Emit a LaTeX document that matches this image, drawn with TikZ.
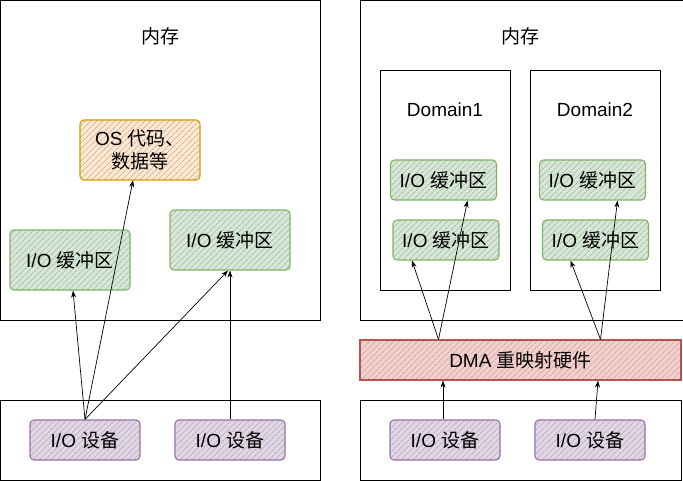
\documentclass[tikz,border=0pt]{standalone}
\usepackage{fontspec}
\setmainfont{Liberation Sans}
\newfontfamily\cjkf{Noto Sans CJK SC}
\newcommand{\zh}[1]{{\cjkf #1}}
\usetikzlibrary{arrows.meta,patterns.meta}
\definecolor{gS}{HTML}{82B366}\definecolor{gF}{HTML}{D5E8D4}
\definecolor{pS}{HTML}{9673A6}\definecolor{pF}{HTML}{E1D5E7}
\definecolor{rS}{HTML}{B85450}\definecolor{rF}{HTML}{F8CECC}
\definecolor{oS}{HTML}{D79B00}\definecolor{oF}{HTML}{FFE6CC}
\tikzset{
  hb/.style 2 args={draw=#1, line width=1.1pt, rounded corners=4pt, inner sep=0pt,
    preaction={fill=#2},
    pattern={Lines[angle=45,distance=4pt,line width=0.6pt]}, pattern color=gray!75,
    font=\fontsize{19}{23}\selectfont, align=center},
  frame/.style={draw=black, line width=0.9pt, fill=white},
  lbl/.style={font=\fontsize{19}{23}\selectfont, inner sep=0pt},
  conn/.style={draw=black, line width=0.7pt, -{Stealth[length=7pt,width=5pt]}},
}
\begin{document}
\begin{tikzpicture}[x=1pt,y=-1pt]
\useasboundingbox (0,0) rectangle (683,481);
% left panel
\node[frame, minimum width=320pt, minimum height=320pt, anchor=north west] (lmem) at (0,0) {};
\node[frame, minimum width=320pt, minimum height=80pt, anchor=north west] (lio) at (0,400) {};
\node[lbl] (lmemt) at (160,36) {\zh{内存}};
\node[hb={oS}{oF}, minimum width=120pt, minimum height=60pt] (os) at (140,150) {OS \zh{代码、}\\\zh{数据等}};
\node[hb={gS}{gF}, minimum width=120pt, minimum height=60pt] (lbuf) at (70,260) {I/O \zh{缓冲区}};
\node[hb={gS}{gF}, minimum width=120pt, minimum height=60pt] (rbuf) at (230,240) {I/O \zh{缓冲区}};
\node[hb={pS}{pF}, minimum width=110pt, minimum height=40pt] (ldev1) at (85,440) {I/O \zh{设备}};
\node[hb={pS}{pF}, minimum width=110pt, minimum height=40pt] (ldev2) at (230,440) {I/O \zh{设备}};
\draw[conn] (ldev1.north) -- ([xshift=3pt]lbuf.south);
\draw[conn] (ldev1.north) -- ([xshift=-7pt]os.south);
\draw[conn] (ldev1.north) -- ([xshift=-2pt]rbuf.south);
\draw[conn] (ldev2.north) -- (rbuf.south);
% right panel
\node[frame, minimum width=323pt, minimum height=320pt, anchor=north west] (rmem) at (360,0) {};
\node[lbl] (rmemt) at (520,36) {\zh{内存}};
\node[frame, minimum width=130pt, minimum height=220pt, anchor=north west] (dom1) at (380,70) {};
\node[frame, minimum width=130pt, minimum height=220pt, anchor=north west] (dom2) at (530,70) {};
\node[lbl] (dom1t) at (445,110) {Domain1};
\node[lbl] (dom2t) at (595,110) {Domain2};
\node[hb={gS}{gF}, minimum width=106pt, minimum height=40pt] (d1b1) at (443.5,180) {I/O \zh{缓冲区}};
\node[hb={gS}{gF}, minimum width=106pt, minimum height=40pt] (d1b2) at (446,240) {I/O \zh{缓冲区}};
\node[hb={gS}{gF}, minimum width=106pt, minimum height=40pt] (d2b1) at (592.5,180) {I/O \zh{缓冲区}};
\node[hb={gS}{gF}, minimum width=106pt, minimum height=40pt] (d2b2) at (595.5,240) {I/O \zh{缓冲区}};
\node[hb={rS}{rF}, rounded corners=0pt, minimum width=321pt, minimum height=40pt] (dma) at (520.5,360) {DMA \zh{重映射硬件}};
\node[frame, minimum width=321pt, minimum height=80pt, anchor=north west] (rio) at (360,400) {};
\node[hb={pS}{pF}, minimum width=110pt, minimum height=40pt] (rdev1) at (445,440) {I/O \zh{设备}};
\node[hb={pS}{pF}, minimum width=110pt, minimum height=40pt] (rdev2) at (590,440) {I/O \zh{设备}};
\draw[conn] ([xshift=-82pt]dma.north) -- ([xshift=-34pt]d1b2.south);
\draw[conn] ([xshift=-82pt]dma.north) -- ([xshift=24pt]d1b1.south);
\draw[conn] ([xshift=80pt]dma.north) -- ([xshift=-25pt]d2b2.south);
\draw[conn] ([xshift=80pt]dma.north) -- ([xshift=25pt]d2b1.south);
\draw[conn] ([xshift=-2pt]rdev1.north) -- ([xshift=-2pt]rdev1.north |- dma.south);
\draw[conn] ([xshift=5pt]rdev2.north) -- ([xshift=8pt]rdev2.north |- dma.south);
\end{tikzpicture}
\end{document}
